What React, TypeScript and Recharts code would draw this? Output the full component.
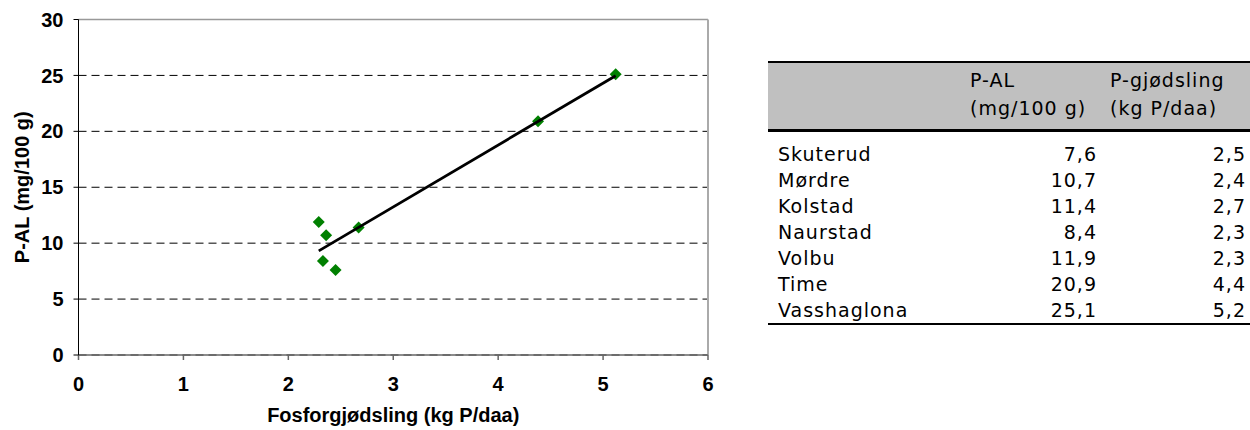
import {
  ScatterChart,
  Scatter,
  XAxis,
  YAxis,
  CartesianGrid,
  ReferenceLine,
} from "recharts";

// stations, P-AL (mg/100 g) and P-fertilisation (kg P/daa)
const sites = ["Skuterud", "Mørdre", "Kolstad", "Naurstad", "Volbu", "Time", "Vasshaglona"];
const pAL = [7.6, 10.7, 11.4, 8.4, 11.9, 20.9, 25.1];
const pFert = [2.5, 2.4, 2.7, 2.3, 2.3, 4.4, 5.2];
// x positions as plotted in the chart (table is rounded)
const pFertPlot = [2.45, 2.36, 2.67, 2.33, 2.29, 4.38, 5.12];

const xTicks = [0, 1, 2, 3, 4, 5, 6];
const yTicks = [0, 5, 10, 15, 20, 25, 30];

const points = pFertPlot.map((x, i) => ({ x, y: pAL[i], name: sites[i] }));

// least squares trend line
const n = points.length;
const mx = points.reduce((s, p) => s + p.x, 0) / n;
const my = points.reduce((s, p) => s + p.y, 0) / n;
const slope =
  points.reduce((s, p) => s + (p.x - mx) * (p.y - my), 0) /
  points.reduce((s, p) => s + (p.x - mx) ** 2, 0);
const icpt = my - slope * mx;
const xMin = Math.min(...pFertPlot);
const xMax = Math.max(...pFertPlot);
const trend = [
  { x: xMin, y: icpt + slope * xMin },
  { x: xMax, y: icpt + slope * xMax },
];

const fmt = (v: number) => v.toFixed(1).replace(".", ",");

const Diamond = (props: any) => {
  const { cx, cy } = props;
  const r = 6;
  return (
    <path
      d={`M${cx},${cy - r}L${cx + r},${cy}L${cx},${cy + r}L${cx - r},${cy}Z`}
      fill="#008000"
    />
  );
};

const axisFont = { fontFamily: "'Liberation Sans', Arial, sans-serif", fontWeight: 700 };

export default function App() {
  return (
    <div style={{ position: "absolute", left: 0, top: 0, width: 1250, height: 430, background: "#fff" }}>
      <ScatterChart width={720} height={430} margin={{ top: 19.5, right: 12, bottom: 0, left: 0.5 }}>
        <CartesianGrid vertical={false} stroke="#000" strokeDasharray="8 5" />
        <ReferenceLine y={30} stroke="#999" strokeWidth={1.5} />
        <ReferenceLine x={6} stroke="#aaa" strokeWidth={2} />
        <XAxis
          type="number"
          dataKey="x"
          domain={[0, 6]}
          ticks={xTicks}
          interval={0}
          height={75}
          stroke="#666"
          strokeWidth={1.5}
          tickSize={5}
          tickMargin={17}
          tick={{ ...axisFont, fontSize: 20, fill: "#000" }}
          label={(p: any) => {
            const vb = p.viewBox;
            return (
              <text
                x={vb.x + vb.width / 2}
                y={415}
                textAnchor="middle"
                dominantBaseline="central"
                style={{ ...axisFont, fontSize: 20 }}
                fill="#000"
              >
                Fosforgjødsling (kg P/daa)
              </text>
            );
          }}
        />
        <YAxis
          type="number"
          dataKey="y"
          domain={[0, 30]}
          ticks={yTicks}
          interval={0}
          width={78}
          stroke="#000"
          tickSize={5}
          tickMargin={10}
          tick={{ ...axisFont, fontSize: 20, fill: "#000" }}
          label={(p: any) => {
            const vb = p.viewBox;
            const cy = vb.y + vb.height / 2;
            return (
              <text
                x={22}
                y={cy}
                transform={`rotate(-90 22 ${cy})`}
                textAnchor="middle"
                dominantBaseline="central"
                style={{ ...axisFont, fontSize: 20 }}
                fill="#000"
              >
                P-AL (mg/100 g)
              </text>
            );
          }}
        />
        <Scatter data={points} shape={Diamond} isAnimationActive={false} />
        <Scatter
          data={trend}
          shape={() => <g />}
          line={{ stroke: "#000", strokeWidth: 2.8 }}
          isAnimationActive={false}
        />
      </ScatterChart>

      <div
        style={{
          position: "absolute",
          left: 768,
          top: 61,
          width: 482,
          fontFamily: "'DejaVu Sans', sans-serif",
          fontSize: 19,
          letterSpacing: 1,
          color: "#000",
        }}
      >
        <div
          style={{
            position: "relative",
            height: 66,
            background: "#c0c0c0",
            borderTop: "2px solid #000",
            borderBottom: "3px solid #000",
            lineHeight: "28px",
          }}
        >
          <div style={{ position: "absolute", left: 202, top: 3 }}>
            P-AL
            <br />
            (mg/100 g)
          </div>
          <div style={{ position: "absolute", left: 342, top: 3 }}>
            P-gjødsling
            <br />
            (kg P/daa)
          </div>
        </div>
        <div style={{ paddingTop: 9, borderBottom: "2px solid #000" }}>
          {sites.map((s, i) => (
            <div key={s} style={{ position: "relative", height: 26, lineHeight: "26px" }}>
              <span style={{ position: "absolute", left: 10 }}>{s}</span>
              <span style={{ position: "absolute", right: 153 }}>{fmt(pAL[i])}</span>
              <span style={{ position: "absolute", right: 4 }}>{fmt(pFert[i])}</span>
            </div>
          ))}
        </div>
      </div>
    </div>
  );
}
